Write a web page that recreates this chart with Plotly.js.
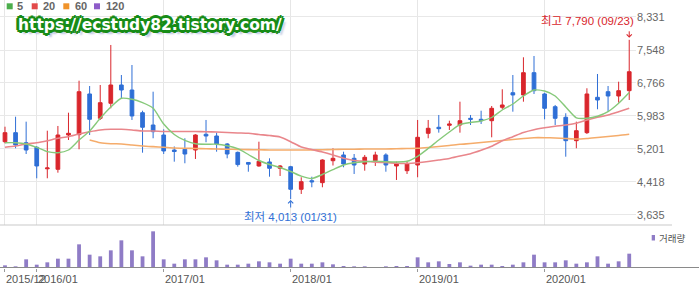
<!DOCTYPE html>
<html><head><meta charset="utf-8">
<script src="https://cdn.plot.ly/plotly-3.0.1.min.js"></script>
<style>html,body{margin:0;padding:0;background:#fff;overflow:hidden}#chart{width:699px;height:288px}</style>
</head><body><div id="chart"></div>
<script>
// ---- data ----
const months = ['2015/10','2015/11','2015/12',
 '2016/01','2016/02','2016/03','2016/04','2016/05','2016/06','2016/07','2016/08','2016/09','2016/10','2016/11','2016/12',
 '2017/01','2017/02','2017/03','2017/04','2017/05','2017/06','2017/07','2017/08','2017/09','2017/10','2017/11','2017/12',
 '2018/01','2018/02','2018/03','2018/04','2018/05','2018/06','2018/07','2018/08','2018/09','2018/10','2018/11','2018/12',
 '2019/01','2019/02','2019/03','2019/04','2019/05','2019/06','2019/07','2019/08','2019/09','2019/10','2019/11','2019/12',
 '2020/01','2020/02','2020/03','2020/04','2020/05','2020/06','2020/07','2020/08','2020/09'];
const openP  = [5373,5587,5349,5240,4730,4718,5532,5540,6505,5928,6284,6718,6599,6061,5769,5532,5176,5193,5176,5549,5508,5319,5120,4880,4797,4892,4742,4780,4244,4448,4401,4922,5058,4979,4844,4922,5058,4797,4685,4820,5572,5715,5762,5769,5928,5904,5871,6189,6535,6481,7010,6505,6203,5952,5397,5587,6426,6559,6457,6583];
const highP  = [5729,5966,5848,5270,5634,5746,6061,6820,6694,6718,7667,6955,7192,6108,6559,5667,5260,5454,5550,5888,5587,5340,5140,4890,5373,4979,4820,4800,4529,4543,4956,5217,5136,5081,5058,5136,5098,4899,4899,5888,5888,6007,5871,6322,6007,6108,6220,6616,6955,7375,7406,6535,6244,6047,5848,6640,6979,6694,6796,7790];
const lowP   = [5335,5217,5081,4505,4505,4638,5413,5193,5532,5888,6165,6403,5888,5112,5454,5081,4899,4861,4963,5360,5136,4979,4780,4661,4780,4543,4560,4013,4133,4292,4292,4808,4766,4607,4685,4797,4661,4465,4607,4529,5454,5587,5651,5587,5769,5793,5477,6142,6085,6322,6505,5904,5769,5017,5217,5556,6142,6085,6298,6362];
const closeP = [5587,5295,5176,4797,4750,5532,5572,6559,5904,6298,6718,6599,5983,5715,5610,5153,5140,5081,5532,5508,5319,5081,4830,4840,4908,4742,4797,4244,4424,4420,4939,4979,4844,4820,5003,5058,4820,4844,4844,5477,5691,5682,5793,5871,5904,5871,6165,6244,6481,7010,6583,6165,5928,5397,5634,6505,6362,6457,6583,7033];
const ma5  = [5349,5349,5319,5240,5136,5112,5176,5413,5627,5928,6196,6403,6379,6298,6165,5793,5544,5402,5323,5312,5314,5276,5207,5069,4927,4832,4761,4666,4555,4500,4595,4709,4820,4873,4899,4911,4899,4892,4908,5027,5212,5413,5603,5781,5829,5864,5947,6125,6267,6457,6599,6576,6457,6196,5940,5928,5976,6085,6284,6540];
const ma20 = [5240,5271,5319,5349,5397,5454,5492,5556,5610,5651,5667,5667,5651,5627,5627,5615,5615,5615,5615,5610,5603,5591,5580,5572,5544,5520,5485,5373,5247,5188,5129,5058,4979,4927,4908,4887,4880,4861,4856,4873,4903,4939,4975,5034,5088,5169,5264,5394,5492,5591,5658,5703,5738,5769,5810,5888,5952,6007,6085,6165];
const ma60 = [null,null,null,null,null,null,null,null,5413,5349,5326,5319,5295,5271,5255,5240,5224,5217,5212,5207,5200,5195,5191,5186,5181,5176,5176,5176,5176,5176,5183,5188,5193,5195,5198,5200,5200,5207,5212,5217,5236,5259,5283,5311,5330,5354,5378,5402,5425,5449,5468,5468,5461,5449,5437,5449,5473,5497,5520,5549];
const volume = [80,50,260,100,170,280,280,710,400,350,530,830,530,350,1100,260,130,260,260,320,230,100,100,130,200,170,130,280,130,130,170,110,60,50,50,30,50,60,60,320,170,200,120,170,70,100,100,60,100,170,400,170,170,230,130,170,350,130,200,430];
const yTicks = [3635,4418,5201,5983,6766,7548,8331];
const yTickText = ['3,635','4,418','5,201','5,983','6,766','7,548','8,331'];
const xTickAt = ['2015/10','2016/01','2017/01','2018/01','2019/01','2020/01'];
const xTickText = ['2015/12','2016/01','2017/01','2018/01','2019/01','2020/01'];
const maNames = ['5','20','60','120'];
const highLabel = '최고 7,790 (09/23)';
const lowLabel = '최저 4,013 (01/31)';
const volLabel = '거래량';
const watermark = 'https://ecstudy82.tistory.com/';

// ---- style ----
const RED = '#d9262c', BLUE = '#2f6fd6';
const FONT = 'Liberation Sans, Arial, Noto Sans CJK KR, sans-serif';
const W = 636, H = 268;
const px = x => x / W, py = y => 1 - y / H;

const traces = [
  {type:'candlestick', x:months, open:openP, high:highP, low:lowP, close:closeP,
   xaxis:'x', yaxis:'y', whiskerwidth:0, hoverinfo:'skip',
   increasing:{line:{color:RED,width:1}, fillcolor:RED},
   decreasing:{line:{color:BLUE,width:1}, fillcolor:BLUE}},
  {type:'scatter', mode:'lines', x:months, y:ma60, xaxis:'x', yaxis:'y', line:{color:'#f5ac6b',width:1.6,shape:'spline',smoothing:0.6}, hoverinfo:'skip'},
  {type:'scatter', mode:'lines', x:months, y:ma20, xaxis:'x', yaxis:'y', line:{color:'#e9868b',width:1.6,shape:'spline',smoothing:0.6}, hoverinfo:'skip'},
  {type:'scatter', mode:'lines', x:months, y:ma5, xaxis:'x', yaxis:'y', line:{color:'#86c97a',width:1.4,shape:'spline',smoothing:0.6}, hoverinfo:'skip'},
  {type:'bar', x:months, y:volume, xaxis:'x2', yaxis:'y2', width:0.36, marker:{color:'#8f7cc6'}, hoverinfo:'skip'}
];

const legendColors = ['#4cae4c','#e24a4a','#f0932b','#8e5cc9'];
const legendSq = [6.7, 31.7, 63.3, 94];
const legendTx = [15, 40.7, 72.7, 104];

const shapes = [
  {type:'line', xref:'paper', yref:'paper', x0:0, x1:px(672), y0:py(225), y1:py(225), line:{color:'#c9c9c9',width:1}},
  {type:'line', xref:'paper', yref:'paper', x0:0, x1:px(699), y0:py(267.5), y1:py(267.5), line:{color:'#8a8a8a',width:1}},
  {type:'rect', xref:'paper', yref:'paper', x0:px(651.7), x1:px(655), y0:py(240.5), y1:py(235), fillcolor:'#8f7cc6', line:{width:0}}
];
legendSq.forEach((x,i)=>shapes.push({type:'rect', xref:'paper', yref:'paper', x0:px(x), x1:px(x+6), y0:py(9.3), y1:py(3.3), fillcolor:legendColors[i], line:{width:0}}));

const annotations = [];
legendTx.forEach((x,i)=>annotations.push({xref:'paper', yref:'paper', x:px(x), y:py(6.5), xanchor:'left', yanchor:'middle', showarrow:false,
  text:maNames[i], font:{family:FONT, size:11, color:'#666', weight:'bold'}}));
annotations.push({xref:'paper', yref:'paper', x:px(149.5), y:py(25), xanchor:'center', yanchor:'middle', showarrow:false,
  text:watermark, font:{family:'DejaVu Sans, sans-serif', size:15.5, color:'#ffffff', weight:'bold',
  shadow:'2px 0 0 #178c17, -2px 0 0 #178c17, 0 2px 0 #178c17, 0 -2px 0 #178c17, 2px 2px 0 #178c17, -2px -2px 0 #178c17, 2px -2px 0 #178c17, -2px 2px 0 #178c17, 3px 0 0 #178c17, -3px 0 0 #178c17, 0 3px 0 #178c17, 0 -3px 0 #178c17, 4px 4px 2px #b9c2dd'}});
annotations.push({xref:'x', yref:'paper', x:59, y:py(20.5), xanchor:'right', yanchor:'middle', xshift:7, showarrow:false,
  text:highLabel, font:{family:FONT, size:11.5, color:RED}});
annotations.push({xref:'x', yref:'y', x:59, y:highP[59], text:'', showarrow:true, ax:0, ay:-10, arrowhead:4, arrowsize:1, arrowwidth:1, arrowcolor:RED, standoff:2});
annotations.push({xref:'x', yref:'paper', x:27, y:py(216.5), xanchor:'center', yanchor:'middle', showarrow:false,
  text:lowLabel, font:{family:FONT, size:11.5, color:BLUE}});
annotations.push({xref:'x', yref:'y', x:27, y:lowP[27], text:'', showarrow:true, ax:0, ay:10, arrowhead:4, arrowsize:1, arrowwidth:1, arrowcolor:BLUE, standoff:1});
annotations.push({xref:'paper', yref:'paper', x:px(656.5), y:py(238), xanchor:'left', yanchor:'middle', showarrow:false,
  text:volLabel, font:{family:'Noto Sans CJK KR, sans-serif', size:9.5, color:'#555'}});
xTickAt.forEach((m,i)=>annotations.push({xref:'x2', yref:'paper', x:months.indexOf(m), y:py(278.7), xanchor:'left', yanchor:'middle', xshift:-1, showarrow:false,
  text:xTickText[i], font:{family:FONT, size:11, color:'#555'}}));

const xr = [-0.472, 59.64];
const layout = {
  width:699, height:288, margin:{l:0, r:63, t:0, b:20}, paper_bgcolor:'#fff', plot_bgcolor:'#fff',
  showlegend:false, boxgap:0.5, bargap:0.6,
  font:{family:FONT, size:11, color:'#666'},
  xaxis:{type:'category', range:xr, anchor:'y', tickvals:xTickAt, showticklabels:false, ticks:'', showgrid:true, gridcolor:'#e6e6e6', zeroline:false, showline:false, rangeslider:{visible:false}, fixedrange:true},
  xaxis2:{type:'category', range:xr, anchor:'y2', tickvals:xTickAt, showticklabels:false, ticks:'outside', ticklen:3, tickcolor:'#999', showgrid:false, zeroline:false, showline:false, fixedrange:true},
  yaxis:{domain:[1-225/H, 1], range:[3397, 8734], side:'right', tickvals:yTicks, ticktext:yTickText, ticks:'', gridcolor:'#e8e8e8', zeroline:false, showline:false,
    tickfont:{family:FONT, size:11, color:'#666'}, fixedrange:true},
  yaxis2:{domain:[0, 40/H], range:[0,1200], showgrid:false, showticklabels:false, zeroline:false, showline:false, fixedrange:true},
  shapes:shapes, annotations:annotations
};
Plotly.newPlot('chart', traces, layout, {staticPlot:true, displayModeBar:false});
</script></body></html>
